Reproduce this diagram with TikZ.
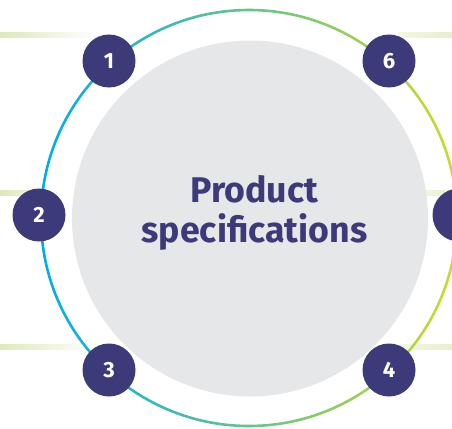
\documentclass[tikz,border=0pt]{standalone}
\usepackage{fontspec}
\setmainfont{Fira Sans}
\definecolor{pur}{HTML}{3D3A7A}
\definecolor{gry}{HTML}{E6E7E9}
\definecolor{ringL}{HTML}{00ACEC}
\definecolor{ringM}{HTML}{34C2A6}
\definecolor{ringR}{HTML}{CCDC2A}
\definecolor{lineG}{HTML}{DDE9BA}
\definecolor{lineP}{HTML}{F3F7E2}
\begin{document}
\begin{tikzpicture}[x=1pt,y=-1pt,
  numdot/.style={circle,fill=pur,minimum size=53pt,inner sep=0pt,text=white,
    font=\bfseries\fontsize{22}{22}\selectfont},
  titletext/.style={text=pur,inner sep=0pt,anchor=base,
    font=\bfseries\fontsize{35.7}{36}\selectfont}]
\useasboundingbox (0,0) rectangle (452,428);
\clip (0,0) rectangle (452,428);
% side bars
\shade[left color=lineG,right color=white] (0,33) rectangle (98,38);
\shade[left color=lineG,right color=lineP] (0,190) rectangle (45,195);
\shade[left color=lineG,right color=white] (0,344) rectangle (95,349);
\shade[left color=lineP,right color=lineG!70] (398,33) rectangle (452,38);
\shade[left color=lineP,right color=lineG!70] (420,190) rectangle (452,195);
\shade[left color=lineP,right color=lineG!70] (400,344) rectangle (452,349);
% ring
\shade[left color=ringL,middle color=ringM,right color=ringR,even odd rule]
  (249,218) circle[radius=209.3pt] (249,218) circle[radius=206.7pt];
% core
\node[circle,fill=gry,minimum size=356pt,inner sep=0pt] (core) at (250,218.5) {};
% numbers
\node[numdot] (n1) at (109,61) {1};
\node[numdot] (n2) at (39,215) {2};
\node[numdot] (n3) at (109,370) {3};
\node[numdot] (n4) at (389,370) {4};
\node[numdot] (n5) at (459,215) {5};
\node[numdot] (n6) at (389,61) {6};
% title
\node[titletext] (t1) at (254.5,202) {Product};
\node[titletext] (t2) at (254.5,242) {specifications};
\end{tikzpicture}
\end{document}
